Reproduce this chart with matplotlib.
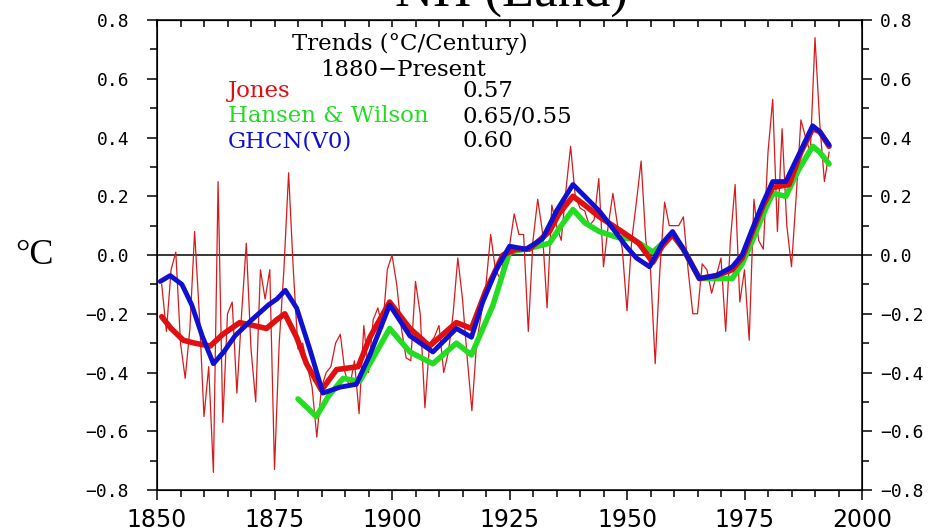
import matplotlib
matplotlib.use("Agg")
import matplotlib.pyplot as plt
from matplotlib.ticker import MultipleLocator

# Jones annual anomalies (thin red), 1851-1993
jones_years = list(range(1851, 1994))
jones_annual = [
    -0.10, -0.26, -0.05, 0.01, -0.30, -0.42, -0.25, 0.08, -0.20, -0.55,   # 1851-1860
    -0.38, -0.74, 0.25, -0.57, -0.20, -0.16, -0.47, -0.20, 0.04, -0.32,   # 1861-1870
    -0.50, -0.05, -0.15, -0.05, -0.73, -0.30, -0.05, 0.28, -0.05, -0.32,  # 1871-1880
    -0.30, -0.38, -0.45, -0.62, -0.45, -0.40, -0.38, -0.30, -0.27, -0.40, # 1881-1890
    -0.45, -0.36, -0.54, -0.24, -0.40, -0.22, -0.18, -0.25, -0.05, 0.00,  # 1891-1900
    -0.10, -0.25, -0.35, -0.36, -0.09, -0.20, -0.52, -0.30, -0.28, -0.24, # 1901-1910
    -0.40, -0.33, -0.20, -0.01, -0.15, -0.35, -0.53, -0.30, -0.20, -0.10, # 1911-1920
    0.07, -0.05, -0.08, 0.00, 0.03, 0.14, 0.07, 0.07, -0.26, 0.05,        # 1921-1930
    0.19, 0.08, -0.18, 0.17, 0.10, 0.05, 0.22, 0.37, 0.20, 0.16,          # 1931-1940
    0.15, 0.10, 0.12, 0.26, -0.04, 0.10, 0.21, 0.10, 0.02, -0.19,         # 1941-1950
    0.05, 0.18, 0.32, 0.05, -0.05, -0.37, -0.05, 0.18, 0.10, 0.10,        # 1951-1960
    0.10, 0.13, -0.05, -0.20, -0.20, -0.03, -0.05, -0.13, -0.07, -0.01,   # 1961-1970
    -0.26, 0.05, 0.24, -0.16, -0.05, -0.29, 0.19, 0.05, 0.02, 0.35,       # 1971-1980
    0.53, 0.08, 0.43, 0.10, -0.04, 0.20, 0.46, 0.40, 0.35, 0.74,          # 1981-1990
    0.45, 0.25, 0.35,                                                     # 1991-1993
]

# smoothed curves
jones_s_years = [1851, 1853, 1855.6, 1858, 1861.3, 1864, 1867.6, 1870.5, 1873.3, 1875.5,
                 1877.2, 1879.7, 1881.8, 1885, 1888.2, 1892.8, 1895.3, 1899.5, 1903.8, 1908,
                 1913.7, 1916.9, 1920, 1923.6, 1926.4, 1929.2, 1933.5, 1935.5, 1938.5, 1941,
                 1944.1, 1947, 1949.8, 1952.5, 1955.5, 1957.5, 1959.7, 1962, 1965.4, 1969,
                 1972.4, 1974.5, 1976.7, 1979, 1981, 1984.5, 1987, 1989.5, 1991, 1993]
jones_s = [-0.21, -0.25, -0.29, -0.30, -0.31, -0.27, -0.23, -0.24, -0.25, -0.22,
           -0.20, -0.28, -0.37, -0.46, -0.39, -0.38, -0.28, -0.16, -0.25, -0.31,
           -0.23, -0.25, -0.12, 0.00, 0.02, 0.02, 0.08, 0.14, 0.20, 0.17,
           0.13, 0.10, 0.07, 0.04, -0.025, 0.03, 0.07, 0.02, -0.08, -0.07,
           -0.05, -0.01, 0.08, 0.17, 0.23, 0.24, 0.35, 0.43, 0.42, 0.37]

ghcn_years = [1850.7, 1852.8, 1855.3, 1857.4, 1859.6, 1862, 1864.2, 1866.6, 1870.2, 1873.7,
              1875.5, 1877.3, 1879.7, 1882.5, 1885.3, 1888.9, 1892.4, 1895.3, 1899.5, 1903.8,
              1908.7, 1913.7, 1916.9, 1919.3, 1922.2, 1925, 1928.5, 1932, 1935, 1938.5,
              1941, 1944.1, 1947, 1949.8, 1952, 1954.8, 1957.5, 1959.7, 1962, 1965.4,
              1969, 1972.4, 1974.5, 1976.7, 1979, 1981, 1983.8, 1986.5, 1989.5, 1991, 1993]
ghcn_s = [-0.09, -0.07, -0.10, -0.17, -0.275, -0.37, -0.33, -0.275, -0.22, -0.17,
          -0.15, -0.12, -0.18, -0.32, -0.47, -0.45, -0.44, -0.34, -0.17, -0.275,
          -0.33, -0.25, -0.28, -0.16, -0.05, 0.03, 0.02, 0.055, 0.15, 0.24,
          0.20, 0.15, 0.09, 0.03, -0.01, -0.04, 0.04, 0.08, 0.02, -0.08,
          -0.07, -0.04, 0.00, 0.09, 0.18, 0.25, 0.25, 0.34, 0.44, 0.42, 0.375]

hw_years = [1880, 1882, 1883.9, 1886.5, 1889.6, 1893.1, 1896, 1899.5, 1903.8, 1908.7,
            1913.7, 1916.9, 1921.5, 1925, 1930, 1933.5, 1936, 1938.5, 1941, 1944.1,
            1948, 1951.2, 1955.5, 1959.7, 1962, 1965.4, 1969, 1972.4, 1974.5, 1976.7,
            1979, 1981, 1983.8, 1986.5, 1989.5, 1991, 1993]
hw_s = [-0.49, -0.52, -0.55, -0.48, -0.42, -0.43, -0.35, -0.25, -0.33, -0.37,
        -0.30, -0.34, -0.17, 0.01, 0.026, 0.04, 0.10, 0.155, 0.11, 0.08,
        0.06, 0.055, 0.01, 0.07, 0.02, -0.08, -0.08, -0.08, -0.03, 0.05,
        0.14, 0.21, 0.20, 0.29, 0.37, 0.35, 0.31]

legend_names = ["Jones", "Hansen & Wilson", "GHCN(V0)"]
legend_trends = ["0.57", "0.65/0.55", "0.60"]
legend_colors = ["#e01010", "#22dd22", "#1010d0"]

fig = plt.figure(figsize=(9.39, 5.32), dpi=100)
ax = fig.add_axes([0.1672, 0.0789, 0.7508, 0.8835])

ax.axhline(0, color="black", lw=1.1, zorder=1)
ax.plot(jones_years, jones_annual, color="#d41c1c", lw=0.9, zorder=2)
smooth_kw = dict(solid_capstyle="round", solid_joinstyle="round")
ax.plot(hw_years, hw_s, color=legend_colors[1], lw=4, zorder=3, **smooth_kw)
ax.plot(jones_s_years, jones_s, color=legend_colors[0], lw=4, zorder=4, **smooth_kw)
ax.plot(ghcn_years, ghcn_s, color=legend_colors[2], lw=3.5, zorder=5, **smooth_kw)

ax.set_xlim(1850, 2000)
ax.set_ylim(-0.8, 0.8)
ax.xaxis.set_major_locator(MultipleLocator(25))
ax.xaxis.set_minor_locator(MultipleLocator(5))
ax.yaxis.set_major_locator(MultipleLocator(0.2))
ax.yaxis.set_minor_locator(MultipleLocator(0.1))
ax.yaxis.set_major_formatter(lambda v, p: f"{v:.1f}".replace("-", "\u2212"))

for s in ax.spines.values():
    s.set_linewidth(1.1)

ax.tick_params(axis="x", which="major", direction="out", length=7, width=1.1,
               labelsize=17, pad=6)
ax.tick_params(axis="x", which="minor", direction="out", length=5, width=1.1)
ax.tick_params(axis="y", which="major", direction="out", length=7, width=1.1,
               labelsize=13, pad=13)
ax.tick_params(axis="y", which="minor", direction="out", length=5, width=1.1)
for lab in ax.get_yticklabels():
    lab.set_family("DejaVu Sans Mono")

# right side labels
ax2 = ax.twinx()
ax2.set_ylim(-0.8, 0.8)
ax2.yaxis.set_major_locator(MultipleLocator(0.2))
ax2.yaxis.set_minor_locator(MultipleLocator(0.1))
ax2.yaxis.set_major_formatter(lambda v, p: f"{v:.1f}".replace("-", "\u2212"))
ax2.tick_params(axis="y", which="major", direction="out", length=7, width=1.1,
                labelsize=13, pad=6)
ax2.tick_params(axis="y", which="minor", direction="out", length=5, width=1.1)
for lab in ax2.get_yticklabels():
    lab.set_family("DejaVu Sans Mono")

# top ticks pointing inward
top = ax.secondary_xaxis("top")
top.xaxis.set_major_locator(MultipleLocator(5))
top.tick_params(direction="in", length=5, width=1.1, labeltop=False)

# title, cut off at the top edge as in the original
fig.text(0.545, 0.989, "NH (Land)", ha="center", va="baseline",
         family="Liberation Serif", fontsize=38)
fig.text(0.037, 0.52, "\u00b0C", ha="center", va="center",
         family="Liberation Serif", fontsize=26)

# trend box
serif = "DejaVu Serif"
fs = 16.5
ax.text(1903.8, 0.718, "Trends (\u00b0C/Century)", ha="center", va="center",
        family=serif, fontsize=fs)
ax.text(1902.3, 0.63, "1880\u2212Present", ha="center", va="center",
        family=serif, fontsize=fs)
rows_y = [0.558, 0.473, 0.388]
for name, trend, c, yy in zip(legend_names, legend_trends, legend_colors, rows_y):
    ax.text(1865.1, yy, name, ha="left", va="center", color=c,
            family=serif, fontsize=fs)
    ax.text(1915.0, yy, trend, ha="left", va="center", color="black",
            family=serif, fontsize=fs)

fig.savefig("out.png", dpi=100, facecolor="white")
